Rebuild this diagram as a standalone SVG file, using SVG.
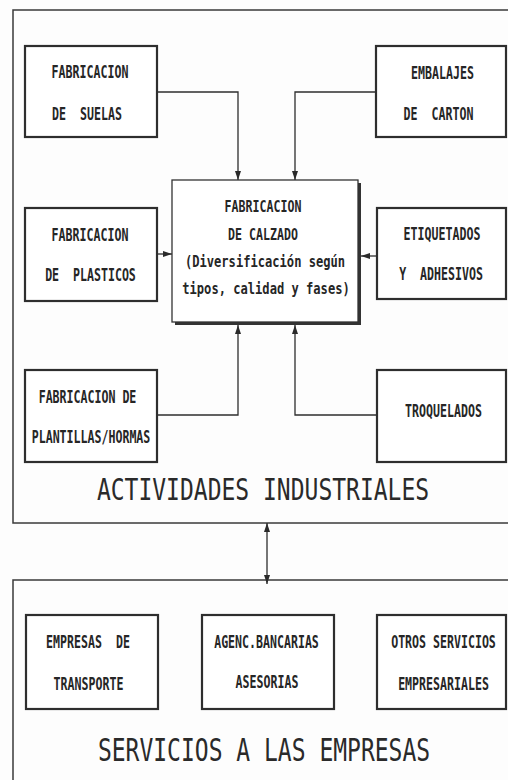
<svg xmlns="http://www.w3.org/2000/svg" width="508" height="780" viewBox="0 0 508 780">
<defs>
<marker id="ah" viewBox="0 0 9 6" refX="9" refY="3" markerWidth="9" markerHeight="6" markerUnits="userSpaceOnUse" orient="auto-start-reverse">
<path d="M0,0 L9,3 L0,6 z" fill="#2a2a2a"/>
</marker>
<style>
.frame{fill:none;stroke:#3a3a3a;stroke-width:1.5}
.box{fill:#fff;stroke:#2e2e2e;stroke-width:2.2}
.t{font-family:"DejaVu Sans Mono","Liberation Mono",monospace;font-size:11.6px;font-weight:bold;fill:#262626;text-anchor:middle;white-space:pre}
.c{font-family:"DejaVu Sans Mono","Liberation Mono",monospace;font-size:12.1px;font-weight:bold;fill:#262626;text-anchor:middle;white-space:pre}
.title{font-family:"DejaVu Sans Mono","Liberation Mono",monospace;font-size:23px;fill:#2a2a2a;text-anchor:middle}
.conn{fill:none;stroke:#2e2e2e;stroke-width:1.3}
</style>
</defs>
<rect width="508" height="780" fill="#fdfdfd"/>
<g id="industriales">
<rect class="frame" x="13" y="10" width="510" height="513"/>
<text class="title" transform="translate(263,500) scale(1,1.31)">ACTIVIDADES INDUSTRIALES</text>
</g>
<g id="servicios">
<rect class="frame" x="13" y="580" width="510" height="220"/>
<text class="title" transform="translate(264,761) scale(1,1.37)">SERVICIOS A LAS EMPRESAS</text>
</g>
<g id="connectors">
<path class="conn" d="M157,92 H238 V180" marker-end="url(#ah)"/>
<path class="conn" d="M376,92 H295 V180" marker-end="url(#ah)"/>
<path class="conn" d="M157,254 H172" marker-end="url(#ah)"/>
<path class="conn" d="M377,256 H361" marker-end="url(#ah)"/>
<path class="conn" d="M157,415 H238 V325" marker-end="url(#ah)"/>
<path class="conn" d="M377,415 H295 V325" marker-end="url(#ah)"/>
<path class="conn" d="M267,523 V584" marker-start="url(#ah)" marker-end="url(#ah)"/>
</g>
<g id="suelas">
<rect class="box" x="25" y="46" width="132" height="91"/>
<text class="t" transform="translate(90,78) scale(1,1.54)">FABRICACION</text>
<text class="t" xml:space="preserve" transform="translate(87,120) scale(1,1.54)">DE  SUELAS</text>
</g>
<g id="embalajes">
<rect class="box" x="376" y="46" width="130" height="91"/>
<text class="t" transform="translate(442.5,79) scale(1,1.54)">EMBALAJES</text>
<text class="t" xml:space="preserve" transform="translate(438.5,120) scale(1,1.54)">DE  CARTON</text>
</g>
<g id="plasticos">
<rect class="box" x="25" y="208" width="132" height="93"/>
<text class="t" transform="translate(90,241) scale(1,1.54)">FABRICACION</text>
<text class="t" xml:space="preserve" transform="translate(90.5,281) scale(1,1.54)">DE  PLASTICOS</text>
</g>
<g id="calzado">
<rect x="175" y="183" width="186" height="142" fill="#333"/>
<rect x="172" y="180" width="186" height="142" fill="#fff" stroke="#333" stroke-width="1.3"/>
<text class="t" transform="translate(263,212) scale(1,1.4)">FABRICACION</text>
<text class="t" transform="translate(263,240) scale(1,1.4)">DE CALZADO</text>
<text class="c" transform="translate(265,267) scale(1,1.36)">(Diversificación según</text>
<text class="c" transform="translate(266,294) scale(1,1.36)">tipos, calidad y fases)</text>
</g>
<g id="etiquetados">
<rect class="box" x="377" y="208" width="129" height="91"/>
<text class="t" transform="translate(442,240) scale(1,1.54)">ETIQUETADOS</text>
<text class="t" xml:space="preserve" transform="translate(441,280) scale(1,1.54)">Y  ADHESIVOS</text>
</g>
<g id="plantillas">
<rect class="box" x="25" y="370" width="132" height="92"/>
<text class="t" transform="translate(87.5,403) scale(1,1.54)">FABRICACION DE</text>
<text class="t" transform="translate(91,443) scale(1,1.54)">PLANTILLAS/HORMAS</text>
</g>
<g id="troquelados">
<rect class="box" x="377" y="370" width="129" height="92"/>
<text class="t" transform="translate(443.5,417) scale(1,1.54)">TROQUELADOS</text>
</g>
<g id="transporte">
<rect class="box" x="26" y="615" width="132" height="94"/>
<text class="t" xml:space="preserve" transform="translate(88,648) scale(1,1.45)">EMPRESAS  DE</text>
<text class="t" transform="translate(88.5,690) scale(1,1.45)">TRANSPORTE</text>
</g>
<g id="bancarias">
<rect class="box" x="202" y="615" width="132" height="94"/>
<text class="t" transform="translate(266.5,648) scale(1,1.45)">AGENC.BANCARIAS</text>
<text class="t" transform="translate(267,688) scale(1,1.45)">ASESORIAS</text>
</g>
<g id="otros">
<rect class="box" x="377" y="615" width="129" height="94"/>
<text class="t" transform="translate(443.5,648) scale(1,1.45)">OTROS SERVICIOS</text>
<text class="t" transform="translate(443.5,690) scale(1,1.45)">EMPRESARIALES</text>
</g>
</svg>
